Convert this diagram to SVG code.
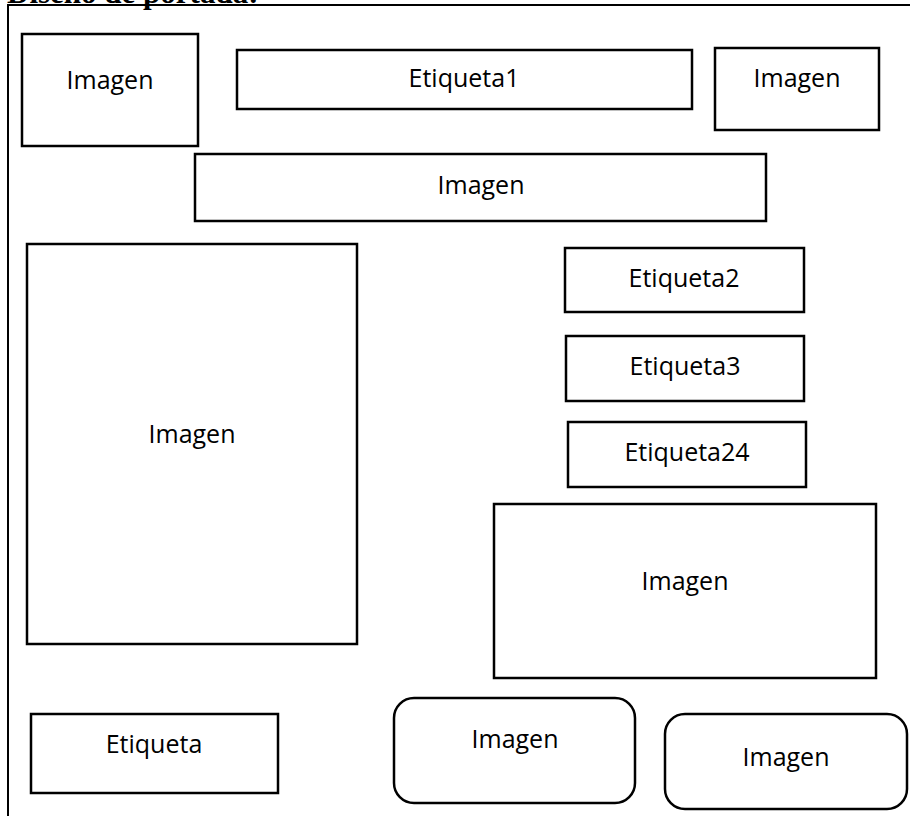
<svg xmlns="http://www.w3.org/2000/svg" width="910" height="816" viewBox="0 0 910 816">
  <style>
    .box { fill: #ffffff; stroke: #000000; stroke-width: 2.5; }
    .frame { fill: none; stroke: #000000; stroke-width: 2; }
    .lbl { font-family: "Open Sans", "Noto Sans", "Liberation Sans", sans-serif; font-size: 25px; fill: #000000; text-anchor: middle; }
    .title { font-family: "Liberation Serif", "Times New Roman", serif; font-weight: bold; font-size: 31px; fill: #000000; }
  </style>
  <rect width="910" height="816" fill="#ffffff"/>

  <!-- heading, mostly above the page edge -->
  <text class="title" x="7" y="3">Diseño de portada:</text>

  <!-- page frame -->
  <rect class="frame" x="8" y="5" width="1000" height="1000"/>

  <g id="img-top-left">
    <rect class="box" x="22" y="34" width="176" height="112"/>
    <text class="lbl" x="110" y="89">Imagen</text>
  </g>
  <g id="etiqueta1">
    <rect class="box" x="237" y="50" width="455" height="59"/>
    <text class="lbl" x="464" y="87">Etiqueta1</text>
  </g>
  <g id="img-top-right">
    <rect class="box" x="715" y="48" width="164" height="82"/>
    <text class="lbl" x="797" y="87">Imagen</text>
  </g>
  <g id="img-banner">
    <rect class="box" x="195" y="154" width="571" height="67"/>
    <text class="lbl" x="481" y="194">Imagen</text>
  </g>
  <g id="img-large">
    <rect class="box" x="27" y="244" width="330" height="400"/>
    <text class="lbl" x="192" y="443">Imagen</text>
  </g>
  <g id="etiqueta2">
    <rect class="box" x="565" y="248" width="239" height="64"/>
    <text class="lbl" x="684" y="287">Etiqueta2</text>
  </g>
  <g id="etiqueta3">
    <rect class="box" x="566" y="336" width="238" height="65"/>
    <text class="lbl" x="685" y="375">Etiqueta3</text>
  </g>
  <g id="etiqueta24">
    <rect class="box" x="568" y="422" width="238" height="65"/>
    <text class="lbl" x="687" y="461">Etiqueta24</text>
  </g>
  <g id="img-right">
    <rect class="box" x="494" y="504" width="382" height="174"/>
    <text class="lbl" x="685" y="590">Imagen</text>
  </g>
  <g id="etiqueta">
    <rect class="box" x="31" y="714" width="247" height="79"/>
    <text class="lbl" x="154" y="753">Etiqueta</text>
  </g>
  <g id="img-round-1">
    <rect class="box" x="394" y="698" width="241" height="105" rx="20" ry="20"/>
    <text class="lbl" x="515" y="748">Imagen</text>
  </g>
  <g id="img-round-2">
    <rect class="box" x="665" y="714" width="242" height="95" rx="20" ry="20"/>
    <text class="lbl" x="786" y="766">Imagen</text>
  </g>

  <g id="connectors"/>
</svg>
